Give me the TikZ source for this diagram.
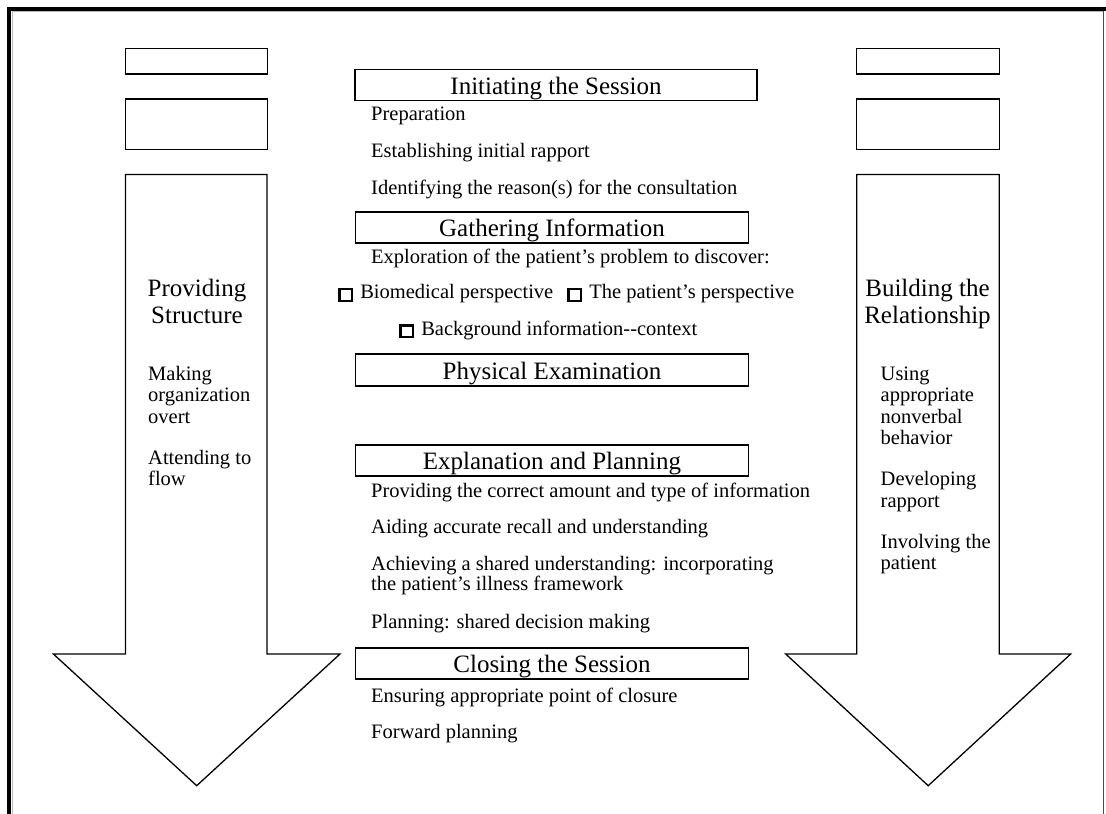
\documentclass[tikz,border=0pt]{standalone}
\usepackage{fontspec}
\setmainfont{Liberation Serif}
\newcommand{\sqbox}{\raisebox{-1pt}{{\setlength{\fboxsep}{0pt}\setlength{\fboxrule}{2.3pt}\fbox{\rule{0pt}{9.5pt}\hspace{10.5pt}}}}\hspace{7pt}}
\tikzset{
  frame/.style={draw, line width=1.3pt},
  titlebox/.style={draw, line width=1.3pt, minimum width=393pt, minimum height=31pt, inner sep=0pt,
    font=\fontsize{25}{25}\selectfont, text height=18pt, text depth=0pt},
  body/.style={anchor=base west, inner sep=0pt, font=\fontsize{20.5}{22}\selectfont},
  sidehead/.style={anchor=base, inner sep=0pt, font=\fontsize{25}{27}\selectfont},
}
\begin{document}
\begin{tikzpicture}[x=1pt, y=-1pt]
\useasboundingbox (0,0) rectangle (1106,814);
% page frame
\fill[black] (7,7) rectangle (1106,10.5);
\fill[black] (7,7) rectangle (10.5,814);
\draw[gray!55, line width=1.2pt] (12.2,814) -- (12.2,11.6) -- (1103,11.6);
\draw[black!70, line width=0.9pt] (1103.6,10.5) -- (1103.6,814);

% left column
\draw[frame] (125.5,48.5) rectangle (267.5,74);
\draw[frame] (125.5,99) rectangle (267.5,149.5);
\draw[frame, line join=miter] (125.5,174.5) -- (267,174.5) -- (267,654) -- (340,654) -- (196.7,785.7) -- (53.4,654) -- (125.5,654) -- cycle;

% right column
\draw[frame] (856.7,48.5) rectangle (999.5,74);
\draw[frame] (856.7,99) rectangle (999.5,149.5);
\draw[frame, line join=miter] (856.7,174.5) -- (999.3,174.5) -- (999.3,654) -- (1070.7,654) -- (928.2,785.7) -- (785.7,654) -- (856.7,654) -- cycle;

% left texts
\node[sidehead] (ps1) at (197,296) {Providing};
\node[sidehead] (ps2) at (197,323) {Structure};
\node[body] (l1) at (148,380.2) {Making};
\node[body] (l2) at (148,401.5) {organization};
\node[body] (l3) at (148,423.2) {overt};
\node[body] (l4) at (148,464.2) {Attending to};
\node[body] (l5) at (148,485.5) {flow};

% right texts
\node[sidehead] (br1) at (927.5,296) {Building the};
\node[sidehead] (br2) at (927.5,323) {Relationship};
\node[body] (r1) at (880.5,380.2) {Using};
\node[body] (r2) at (880.5,401.5) {appropriate};
\node[body] (r3) at (880.5,423.2) {nonverbal};
\node[body] (r4) at (880.5,444.5) {behavior};
\node[body] (r5) at (880.5,485.5) {Developing};
\node[body] (r6) at (880.5,507) {rapport};
\node[body] (r7) at (880.5,548) {Involving the};
\node[body] (r8) at (880.5,569.5) {patient};

% center
\node[titlebox, minimum width=402pt, minimum height=31pt] (init) at (556,85) {Initiating the Session};
\node[body] (c1) at (371,120) {Preparation};
\node[body] (c2) at (371,157.5) {Establishing initial rapport};
\node[body] (c3) at (371,194) {Identifying the reason(s) for the consultation};

\node[titlebox] (gath) at (552,227.5) {Gathering Information};
\node[body] (g1) at (371,263.5) {Exploration of the patient's problem to discover:};
\node[body] (g2) at (338,298.5) {\sqbox Biomedical perspective\hspace{14pt}\sqbox The patient's perspective};
\node[body] (g3) at (399,335) {\sqbox Background information-{}-context};

\node[titlebox, minimum height=32pt] (phys) at (552,370) {Physical Examination};

\node[titlebox] (expl) at (552,460.5) {Explanation and Planning};
\node[body] (e1) at (371,497) {Providing the correct amount and type of information};
\node[body] (e2) at (371,533.3) {Aiding accurate recall and understanding};
\node[body] (e3) at (371,570) {Achieving a shared understanding: incorporating};
\node[body] (e4) at (371,590.7) {the patient's illness framework};
\node[body] (e5) at (371,628.3) {Planning: shared decision making};

\node[titlebox, minimum height=31pt] (clos) at (552,663.5) {Closing the Session};
\node[body] (s1) at (371,702.5) {Ensuring appropriate point of closure};
\node[body] (s2) at (371,738.5) {Forward planning};
\end{tikzpicture}
\end{document}
